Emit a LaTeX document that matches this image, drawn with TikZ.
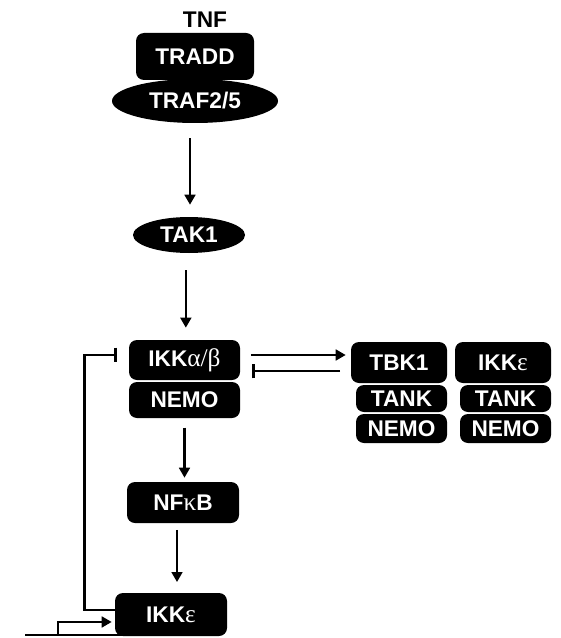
\documentclass[tikz,border=0pt]{standalone}
\usepackage{fontspec}
\setmainfont{Liberation Sans}
\newfontfamily\grkfont{Liberation Serif}
\usetikzlibrary{arrows.meta,shapes.geometric}

\begin{document}
\begin{tikzpicture}[x=0.75pt,y=-0.75pt,font=\fontsize{17}{20}\selectfont\bfseries,
	prot/.style 2 args={fill=black,text=white,rounded corners=6pt,inner sep=0pt,
		minimum width=#1*0.75pt,minimum height=#2*0.75pt},
	blob/.style 2 args={ellipse,fill=black,text=white,inner sep=0pt,
		minimum width=#1*0.75pt,minimum height=#2*0.75pt},
	arr/.style={-{Triangle[length=7.5pt,width=8pt]},line width=2pt},
	inh/.style={-{Bar[width=11pt,line width=2pt]},line width=2pt}]
\def\gk#1{{\grkfont\mdseries\fontsize{19}{20}\selectfont #1}}
\useasboundingbox (0,0) rectangle (560,638);

% receptor complex
\node (tnf) at (205,19.5) {TNF};
\node[prot={118}{47}] (tradd) at (195,56.5) {TRADD};
\node[blob={166}{44}] (traf) at (195,101) {TRAF2/5};
\node[blob={112}{36}] (tak1) at (189,235) {TAK1};

% canonical IKK
\node[prot={111}{40}] (ikkab) at (184.5,360) {IKK\gk{α/β}};
\node[prot={111}{36}] (nemo) at (184.5,400) {NEMO};
\node[prot={112}{41}] (nfkb) at (183,502.5) {NF\gk{κ}B};
\node[prot={112}{43}] (ikke) at (171,614.5) {IKK\gk{ε}};

% non-canonical kinases
\foreach \nm/\lab/\xr in {tbk/TBK1/447,ike/IKK\gk{ε}/551} {
	\node[prot={96}{41}] (\nm) at (\xr-48,362.5) {\lab};
	\node[prot={91}{27}] (\nm-tank) at (\xr-45.5,398.5) {TANK};
	\node[prot={91}{29}] (\nm-nemo) at (\xr-45.5,428.5) {NEMO};
}

\draw[arr,shorten <=11.25pt,shorten >=9pt] ([xshift=-3.75pt]traf.south) -- ([xshift=-3.75pt]traf.south |- tak1.north);
\draw[arr,shorten <=12.75pt,shorten >=9pt] ([xshift=1pt]tak1.south -| ikkab.north) -- ([xshift=1pt]ikkab.north);
\draw[arr,shorten <=7pt,shorten >=3pt] (nemo.south) -- (nemo.south |- nfkb.north);
\draw[arr,shorten <=5pt,shorten >=8pt] ([xshift=-4.5pt]nfkb.south) -- ([xshift=-4.5pt]nfkb.south |- ikke.north);

\draw[arr,shorten <=8pt,shorten >=3.75pt] ([yshift=3.75pt]ikkab.east) -- ([yshift=3.75pt]ikkab.east -| tbk.west);
\draw[inh,shorten <=8pt,shorten >=9pt] ([yshift=-6.4pt]tbk.west) -- ([yshift=-6.4pt]tbk.west -| ikkab.east);

% feedback
\draw[inh,shorten >=9pt] ([yshift=3.4pt]ikke.west) -- ++(-30,0) |- ([yshift=3.75pt]ikkab.west);

% promoter
\coordinate (gene) at (25,635);
\draw[line width=2pt] (gene) -- (193,635);
\draw[arr,shorten >=2.25pt] (58,635) |- ([yshift=-5.6pt]ikke.west);
\end{tikzpicture}
\end{document}
